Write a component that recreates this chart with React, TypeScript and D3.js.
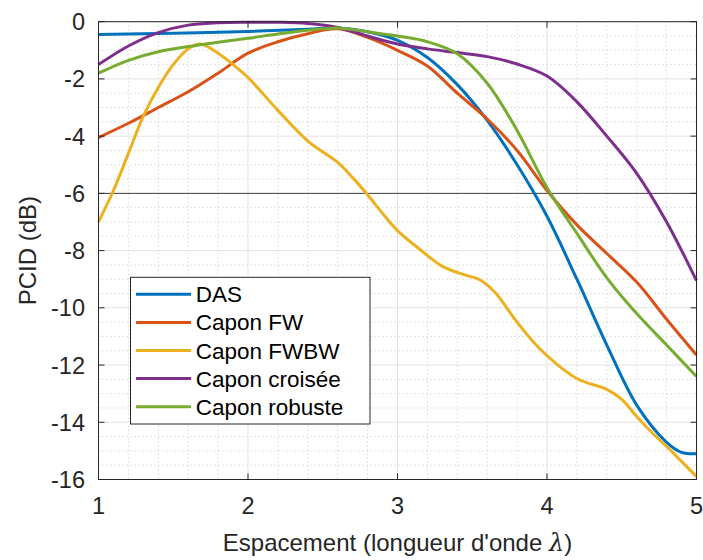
import React from "react";
import * as d3 from "d3";

const xValues = [1.0, 1.2, 1.4, 1.6, 1.8, 2.0, 2.2, 2.4, 2.6, 2.8, 3.0, 3.2, 3.4, 3.6, 3.8, 4.0, 4.2, 4.4, 4.6, 4.8, 5.0];

const dasX = [1.0, 1.5, 2.0, 2.4, 2.6, 2.8, 3.0, 3.2, 3.4, 3.6, 3.8, 4.0, 4.2, 4.4, 4.6, 4.8, 4.9, 5.0];
const dasY = [-0.45, -0.4, -0.34, -0.26, -0.22, -0.35, -0.65, -1.25, -2.2, -3.45, -5.0, -6.8, -9.0, -11.3, -13.4, -14.7, -15.05, -15.1];

const fwY = [-4.05, -3.55, -3.0, -2.45, -1.8, -1.1, -0.7, -0.42, -0.25, -0.55, -1.0, -1.55, -2.5, -3.4, -4.5, -5.9, -7.1, -8.1, -9.1, -10.4, -11.65];

const fwbwX = [1.0, 1.1, 1.2, 1.3, 1.4, 1.5, 1.6, 1.68, 1.8, 1.9, 2.0, 2.2, 2.4, 2.6, 2.7, 2.8, 2.9, 3.0, 3.15, 3.3, 3.45, 3.55, 3.65, 3.8, 3.95, 4.2, 4.4, 4.5, 4.6, 4.7, 4.84, 5.0];
const fwbwY = [-7.0, -5.9, -4.6, -3.3, -2.3, -1.5, -0.95, -0.78, -1.1, -1.5, -1.95, -3.1, -4.17, -4.92, -5.45, -6.05, -6.7, -7.3, -7.96, -8.55, -8.85, -9.02, -9.45, -10.5, -11.42, -12.47, -12.85, -13.2, -13.8, -14.35, -15.05, -15.9];

const croiseeY = [-1.5, -0.85, -0.38, -0.12, -0.04, -0.02, -0.02, -0.06, -0.2, -0.5, -0.78, -0.95, -1.08, -1.22, -1.48, -1.9, -2.8, -4.0, -5.3, -7.0, -9.05];

const robusteY = [-1.8, -1.35, -1.05, -0.87, -0.72, -0.58, -0.43, -0.3, -0.22, -0.35, -0.5, -0.7, -1.12, -2.15, -3.8, -5.8, -7.4, -8.95, -10.2, -11.3, -12.4];

const seriesNames = ["DAS", "Capon FW", "Capon FWBW", "Capon croisée", "Capon robuste"];
const seriesColors = ["#0072BD", "#D95319", "#EDB120", "#7E2F8E", "#77AC30"];

const xTicks = [1, 2, 3, 4, 5];
const yTicks = [0, -2, -4, -6, -8, -10, -12, -14, -16];

const W = 703;
const H = 560;
const left = 98.5;
const right = 696.5;
const top = 21.7;
const bottom = 479.5;
const font = "'Liberation Sans', Arial, Helvetica, sans-serif";

export default function App() {
  const x = d3.scaleLinear().domain([1, 5]).range([left, right]);
  const y = d3.scaleLinear().domain([-16, 0]).range([bottom, top]);

  const zip = (xs: number[], ys: number[]) => xs.map((v, i) => [v, ys[i]] as [number, number]);
  const series = [
    zip(dasX, dasY),
    zip(xValues, fwY),
    zip(fwbwX, fwbwY),
    zip(xValues, croiseeY),
    zip(xValues, robusteY),
  ];

  const line = d3
    .line<[number, number]>()
    .x((d) => x(d[0]))
    .y((d) => y(d[1]))
    .curve(d3.curveCatmullRom.alpha(0.5));

  const minorX = d3.range(1, 5.0001, 0.2).filter((v) => Math.abs(v - Math.round(v)) > 1e-6);
  const minorY = d3.range(-16, 0.0001, 0.5).filter((v) => Math.abs(v / 2 - Math.round(v / 2)) > 1e-6);

  const axisColor = "#262626";
  const tickLen = 6;

  const legendX = 130.5;
  const legendY = 277.3;
  const legendW = 239.5;
  const legendH = 146.7;
  const legendRow0 = 294.3;
  const legendStep = 28.1;

  return (
    <svg width={W} height={H} style={{ position: "absolute", left: 0, top: 0, background: "#fff" }}>
      <rect x={0} y={0} width={W} height={H} fill="#fff" />
      {minorX.map((v) => (
        <line key={"mx" + v} x1={x(v)} x2={x(v)} y1={top} y2={bottom} stroke="#c4c4c4" strokeWidth={1} strokeDasharray="1,3" />
      ))}
      {minorY.map((v) => (
        <line key={"my" + v} x1={left} x2={right} y1={y(v)} y2={y(v)} stroke="#c4c4c4" strokeWidth={1} strokeDasharray="1,3" />
      ))}
      {xTicks.map((v) => (
        <line key={"gx" + v} x1={x(v)} x2={x(v)} y1={top} y2={bottom} stroke="#e3e3e3" strokeWidth={1} />
      ))}
      {yTicks.map((v) => (
        <line key={"gy" + v} x1={left} x2={right} y1={y(v)} y2={y(v)} stroke="#e3e3e3" strokeWidth={1} />
      ))}
      <line x1={left} x2={right} y1={y(-6)} y2={y(-6)} stroke="#404040" strokeWidth={1} />
      {series.map((s, i) => (
        <path key={"s" + i} d={line(s) || ""} fill="none" stroke={seriesColors[i]} strokeWidth={3} strokeLinejoin="round" />
      ))}
      <rect x={left} y={top} width={right - left} height={bottom - top} fill="none" stroke={axisColor} strokeWidth={1} />
      {xTicks.map((v) => (
        <g key={"tx" + v}>
          <line x1={x(v)} x2={x(v)} y1={bottom} y2={bottom - tickLen} stroke={axisColor} />
          <line x1={x(v)} x2={x(v)} y1={top} y2={top + tickLen} stroke={axisColor} />
          <text x={x(v)} y={514} textAnchor="middle" fontFamily={font} fontSize={23.5} fill={axisColor}>
            {v}
          </text>
        </g>
      ))}
      {yTicks.map((v) => (
        <g key={"ty" + v}>
          <line x1={left} x2={left + tickLen} y1={y(v)} y2={y(v)} stroke={axisColor} />
          <line x1={right} x2={right - tickLen} y1={y(v)} y2={y(v)} stroke={axisColor} />
          <text x={85} y={y(v) + 8.5} textAnchor="end" fontFamily={font} fontSize={23.5} fill={axisColor}>
            {v}
          </text>
        </g>
      ))}
      <text x={(left + right) / 2} y={551} textAnchor="middle" fontFamily={font} fontSize={24} fill={axisColor}>
        Espacement (longueur d'onde <tspan fontStyle="italic" fontFamily="'DejaVu Serif', 'Liberation Serif', serif">λ</tspan>)
      </text>
      <text
        transform={`translate(36, ${(top + bottom) / 2}) rotate(-90)`}
        textAnchor="middle"
        fontFamily={font}
        fontSize={24}
        fill={axisColor}
      >
        PCID (dB)
      </text>
      <rect x={legendX} y={legendY} width={legendW} height={legendH} fill="#fff" stroke={axisColor} strokeWidth={1} />
      {seriesNames.map((name, i) => (
        <g key={"lg" + i}>
          <line
            x1={136}
            x2={191}
            y1={legendRow0 + i * legendStep}
            y2={legendRow0 + i * legendStep}
            stroke={seriesColors[i]}
            strokeWidth={3}
          />
          <text x={195.7} y={legendRow0 + i * legendStep + 8} fontFamily={font} fontSize={22.5} fill="#000">
            {name}
          </text>
        </g>
      ))}
    </svg>
  );
}
